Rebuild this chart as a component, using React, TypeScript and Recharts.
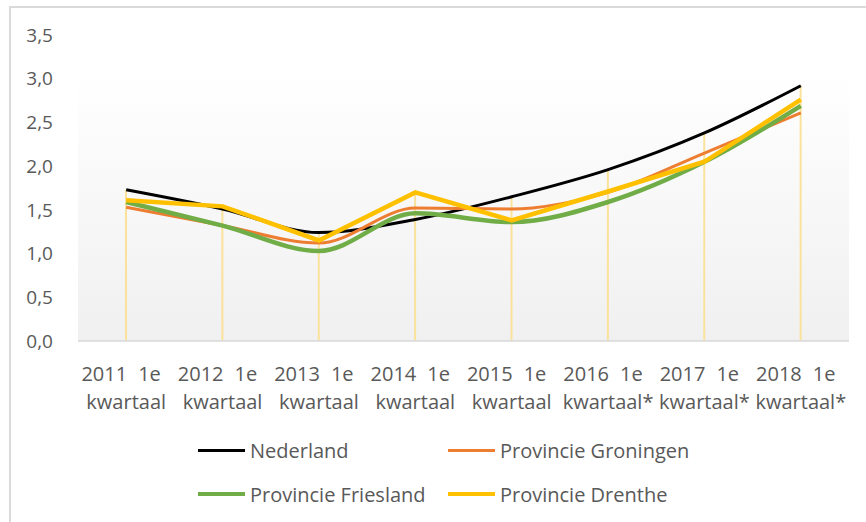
import React from 'react';
import { ComposedChart, Line, Bar, XAxis, YAxis, CartesianGrid } from 'recharts';

const categories = [
  '2011|1e|kwartaal',
  '2012|1e|kwartaal',
  '2013|1e|kwartaal',
  '2014|1e|kwartaal',
  '2015|1e|kwartaal',
  '2016|1e|kwartaal*',
  '2017|1e|kwartaal*',
  '2018|1e|kwartaal*',
];

const nederland = [1.73, 1.51, 1.24, 1.39, 1.65, 1.96, 2.38, 2.92];
const groningen = [1.53, 1.32, 1.12, 1.52, 1.51, 1.70, 2.15, 2.61];
const friesland = [1.59, 1.32, 1.03, 1.46, 1.36, 1.59, 2.05, 2.69];
const drenthe = [1.61, 1.54, 1.15, 1.70, 1.38, 1.71, 2.05, 2.76];

const yTicks = [0, 0.5, 1, 1.5, 2, 2.5, 3, 3.5];

const series = [
  { key: 'nederland', name: 'Nederland', color: '#000000', width: 3, type: 'monotone' },
  { key: 'groningen', name: 'Provincie Groningen', color: '#ed7d31', width: 3, type: 'monotone' },
  { key: 'friesland', name: 'Provincie Friesland', color: '#70ad47', width: 4.5, type: 'monotone' },
  { key: 'drenthe', name: 'Provincie Drenthe', color: '#ffc000', width: 4.5, type: 'linear' },
];

const data = categories.map((cat, i) => ({
  cat,
  nederland: nederland[i],
  groningen: groningen[i],
  friesland: friesland[i],
  drenthe: drenthe[i],
  // drop line runs from the highest series value down to the axis
  drop: Math.max(nederland[i], groningen[i], friesland[i], drenthe[i]),
}));

const textColor = '#595959';
const font = '"Open Sans", sans-serif';

const XTick = (props: any) => {
  const { x, y, payload } = props;
  const [year, q, word] = String(payload.value).split('|');
  return (
    <g transform={`translate(${x},${y})`} fill={textColor} fontSize={20} fontFamily={font}>
      <text x={1} y={38} textAnchor="end">{year}</text>
      <text x={12} y={38} textAnchor="start">{q}</text>
      <text x={0} y={66} textAnchor="middle">{word}</text>
    </g>
  );
};

const legendPos = [
  { left: 198, top: 436 },
  { left: 448, top: 436 },
  { left: 198, top: 480 },
  { left: 448, top: 480 },
];

export default function App() {
  return (
    <div style={{ position: 'absolute', left: 0, top: 0, width: 866, height: 522, overflow: 'hidden', background: '#fff', fontFamily: font }}>
      <div
        style={{
          position: 'absolute',
          left: 9,
          top: 6,
          width: 857,
          height: 516,
          borderTop: '2px solid #dadada',
          borderLeft: '2px solid #dadada',
          boxSizing: 'border-box',
        }}
      />
      <div style={{ position: 'absolute', left: 0, top: 0 }}>
        <ComposedChart width={866} height={430} data={data} margin={{ top: 35, right: 17, left: 0, bottom: 0 }}>
          <defs>
            <linearGradient id="plotBg" x1="0" y1="0" x2="0" y2="1">
              <stop offset="0%" stopColor="#ffffff" />
              <stop offset="12%" stopColor="#ffffff" />
              <stop offset="100%" stopColor="#f0f0f0" />
            </linearGradient>
          </defs>
          <CartesianGrid horizontal={false} vertical={false} fill="url(#plotBg)" stroke="none" />
          <XAxis
            dataKey="cat"
            height={89}
            interval={0}
            tickLine={false}
            tickSize={0}
            axisLine={{ stroke: '#d9d9d9', strokeWidth: 1.5 }}
            tick={<XTick />}
          />
          <YAxis
            width={78}
            domain={[0, 3.5]}
            ticks={yTicks}
            axisLine={false}
            tickLine={false}
            tickSize={0}
            tickMargin={25}
            tickFormatter={(v: number) => v.toFixed(1).replace('.', ',')}
            tick={{ fill: textColor, fontSize: 19, fontFamily: font }}
          />
          <Bar dataKey="drop" barSize={2} fill="#fbe29a" isAnimationActive={false} />
          {series.map((s) => (
            <Line
              key={s.key}
              type={s.type as any}
              dataKey={s.key}
              name={s.name}
              stroke={s.color}
              strokeWidth={s.width}
              dot={false}
              activeDot={false}
              isAnimationActive={false}
            />
          ))}
        </ComposedChart>
      </div>
      {series.map((s, i) => (
        <div
          key={s.key}
          style={{
            position: 'absolute',
            left: legendPos[i].left,
            top: legendPos[i].top,
            height: 28,
            display: 'flex',
            alignItems: 'center',
            color: textColor,
            fontSize: 20,
            whiteSpace: 'nowrap',
          }}
        >
          <span style={{ display: 'inline-block', width: 47, height: s.width, background: s.color, marginRight: 5 }} />
          <span>{s.name}</span>
        </div>
      ))}
    </div>
  );
}
